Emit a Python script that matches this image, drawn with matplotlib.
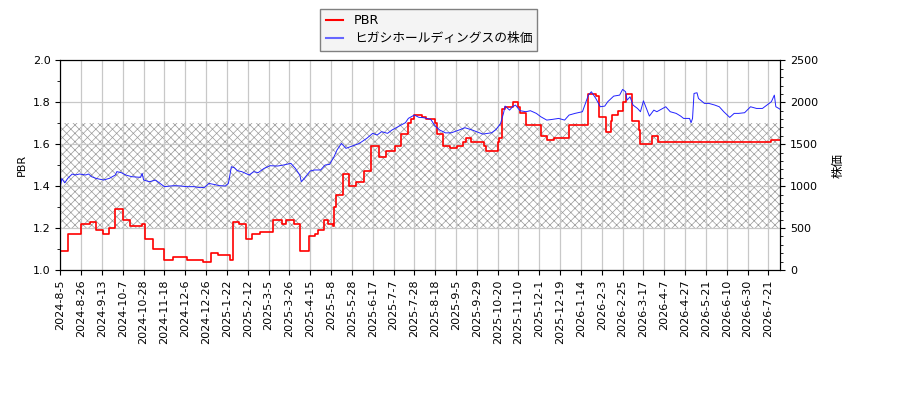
import numpy as np
import matplotlib.pyplot as plt
from matplotlib.lines import Line2D
from matplotlib.ticker import MultipleLocator

plt.rcParams['font.family'] = ['DejaVu Sans', 'Noto Sans CJK JP']
plt.rcParams['hatch.linewidth'] = 0.5

# trading-day index and PBR value where the PBR steps to a new level
pbr_idx = [0, 5, 14, 20, 24, 29, 33, 37, 42, 47, 55, 57, 62, 70, 76, 85, 96, 101,
           106, 114, 116, 120, 125, 129, 134, 143, 149, 152, 157, 161, 167, 171,
           173, 177, 180, 183, 184, 185, 190, 194, 199, 204, 209, 214, 219, 225,
           229, 234, 236, 238, 243, 246, 252, 253, 257, 262, 267, 271, 273, 276,
           285, 286, 294, 295, 297, 299, 304, 308, 309, 313, 323, 327, 332, 342,
           355, 360, 362, 367, 370, 371, 375, 378, 380, 384, 389, 390, 398, 402,
           478, 484]
pbr_val = [1.09, 1.17, 1.22, 1.23, 1.19, 1.17, 1.20, 1.29, 1.24, 1.21, 1.22, 1.15,
           1.10, 1.05, 1.06, 1.05, 1.04, 1.08, 1.07, 1.05, 1.23, 1.22, 1.15, 1.17,
           1.18, 1.24, 1.22, 1.24, 1.22, 1.09, 1.16, 1.17, 1.19, 1.24, 1.22, 1.21,
           1.30, 1.36, 1.46, 1.40, 1.42, 1.47, 1.59, 1.54, 1.57, 1.59, 1.65, 1.70,
           1.72, 1.74, 1.73, 1.72, 1.70, 1.65, 1.59, 1.58, 1.59, 1.61, 1.63, 1.61,
           1.59, 1.57, 1.61, 1.63, 1.77, 1.78, 1.80, 1.78, 1.75, 1.69, 1.64, 1.62,
           1.63, 1.69, 1.84, 1.83, 1.73, 1.66, 1.71, 1.74, 1.76, 1.80, 1.84, 1.71,
           1.67, 1.60, 1.64, 1.61, 1.62, 1.62]

# stock price read at selected trading days
price_idx = [0, 1, 3, 5, 8, 10, 13, 17, 19, 21, 24, 29, 33, 37, 38, 41, 44, 48,
             54, 55, 56, 60, 64, 67, 70, 74, 77, 81, 85, 90, 94, 97, 100, 103,
             107, 111, 113, 115, 117, 119, 122, 127, 130, 133, 137, 141, 146, 150,
             155, 158, 161, 162, 164, 168, 171, 175, 178, 181, 184, 186, 189, 192,
             195, 201, 206, 210, 213, 216, 220, 223, 229, 232, 234, 238, 241, 244,
             249, 252, 255, 259, 263, 268, 272, 277, 280, 284, 287, 290, 293, 296,
             298, 299, 302, 304, 306, 309, 313, 316, 320, 323, 327, 331, 335, 339,
             342, 346, 351, 353, 355, 357, 360, 363, 366, 368, 372, 376, 378, 380,
             381, 383, 385, 388, 390, 392, 394, 396, 399, 401, 407, 410, 414, 417,
             419, 423, 424, 425, 426, 428, 429, 433, 436, 440, 443, 446, 450, 453,
             456, 460, 464, 468, 472, 475, 478, 480, 481, 483, 484]
price_val = [990, 1090, 1040, 1093, 1145, 1133, 1145, 1133, 1145, 1113, 1093, 1073,
             1093, 1133, 1173, 1161, 1133, 1113, 1105, 1153, 1073, 1053, 1073, 1033,
             994, 1002, 1006, 1002, 994, 994, 982, 986, 1033, 1022, 1006, 1002,
             1033, 1232, 1220, 1185, 1173, 1133, 1173, 1161, 1212, 1244, 1240, 1252,
             1272, 1212, 1133, 1053, 1093, 1181, 1193, 1193, 1252, 1260, 1351, 1431,
             1510, 1451, 1471, 1510, 1570, 1630, 1610, 1650, 1630, 1670, 1729, 1757,
             1809, 1848, 1821, 1817, 1797, 1717, 1670, 1635, 1637, 1669, 1697, 1669,
             1649, 1621, 1629, 1637, 1677, 1748, 1875, 1955, 1907, 1947, 1967, 1900,
             1888, 1900, 1868, 1828, 1788, 1797, 1808, 1788, 1848, 1868, 1888, 1987,
             2086, 2126, 2046, 1947, 1955, 2007, 2074, 2086, 2154, 2126, 2026, 2066,
             1967, 1927, 1888, 2018, 1927, 1836, 1907, 1888, 1947, 1888, 1868, 1836,
             1808, 1808, 1757, 1808, 2106, 2114, 2046, 1987, 1987, 1967, 1947, 1888,
             1820, 1868, 1868, 1876, 1947, 1927, 1927, 1967, 2007, 2086, 1947, 1927,
             1915]

tick_labels = ['2024-8-5', '2024-8-26', '2024-9-13', '2024-10-7', '2024-10-28',
               '2024-11-18', '2024-12-6', '2024-12-26', '2025-1-22', '2025-2-12',
               '2025-3-5', '2025-3-26', '2025-4-15', '2025-5-8', '2025-5-28',
               '2025-6-17', '2025-7-7', '2025-7-28', '2025-8-18', '2025-9-5',
               '2025-9-29', '2025-10-20', '2025-11-10', '2025-12-1', '2025-12-19',
               '2026-1-14', '2026-2-3', '2026-2-25', '2026-3-17', '2026-4-7',
               '2026-4-27', '2026-5-21', '2026-6-10', '2026-6-30', '2026-7-21']
tick_step = 14
n_days = 485

fig = plt.figure(figsize=(9, 4), dpi=100)
ax1 = fig.add_axes([0.067, 0.325, 0.8, 0.524])
ax2 = ax1.twinx()

# hatched band of PBR 1.2 - 1.7
ax1.axhspan(1.2, 1.7, facecolor='none', edgecolor='#9a9a9a', hatch='xxxx',
            linewidth=0, zorder=0)

ax1.plot(pbr_idx, pbr_val, color='red', lw=1.2, drawstyle='steps-post')
ax2.plot(price_idx, price_val, color='#2222ff', lw=0.7)

ax1.set_xlim(0, n_days - 1)
ax1.set_ylim(1.0, 2.0)
ax2.set_ylim(0, 2500)
ax1.yaxis.set_major_locator(MultipleLocator(0.2))
ax1.yaxis.set_minor_locator(MultipleLocator(0.1))
ax2.yaxis.set_major_locator(MultipleLocator(500))
ax2.yaxis.set_minor_locator(MultipleLocator(100))

ticks = np.arange(0, n_days, tick_step)
ax1.set_xticks(ticks)
ax1.set_xticklabels(tick_labels, rotation=90, fontsize=8)
ax1.tick_params(axis='y', labelsize=8)
ax2.tick_params(axis='y', labelsize=8)
ax1.grid(True, color='#c8c8c8', lw=0.9)
ax1.set_axisbelow(True)

ax1.set_ylabel('PBR', fontsize=8)
ax2.set_ylabel('株価', fontsize=9, labelpad=10)

handles = [Line2D([], [], color='red', lw=1.5),
           Line2D([], [], color='#6666ff', lw=1.5)]
fig.legend(handles, ['PBR', 'ヒガシホールディングスの株価'],
           loc='upper left', bbox_to_anchor=(0.356, 0.977), borderaxespad=0,
           fontsize=9.2, fancybox=False, framealpha=1, facecolor='#f4f4f4',
           edgecolor='#808080', handlelength=1.4, labelspacing=0.4)

fig.savefig('out.png', dpi=100)
